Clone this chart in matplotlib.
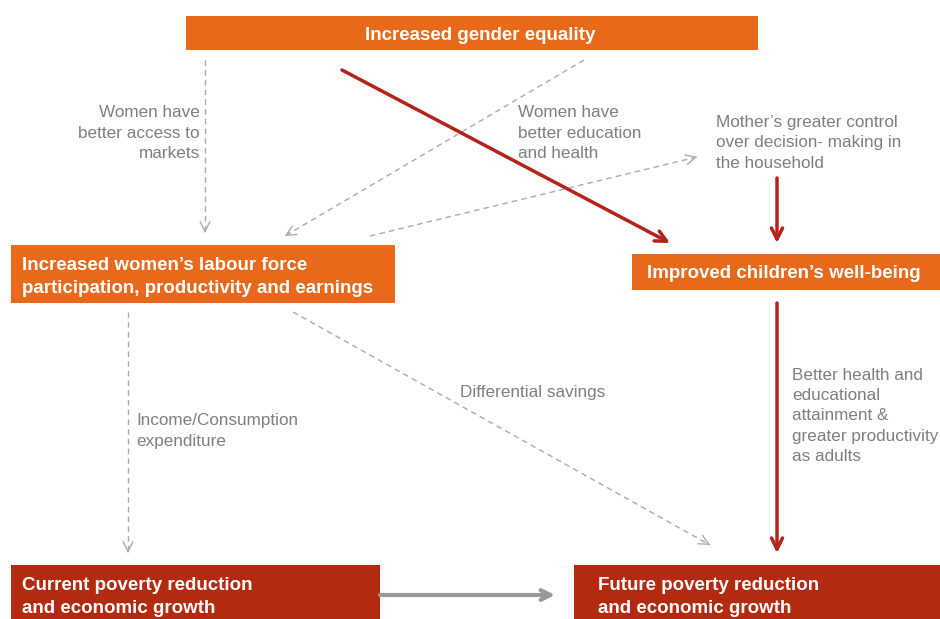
import numpy as np
import matplotlib.pyplot as plt
from matplotlib.patches import Rectangle

plt.rcParams['font.family'] = ['Liberation Sans', 'DejaVu Sans']

ORANGE = "#E8691A"
DARKRED = "#B42A10"
RED = "#B3231A"
GREY_TXT = "#7F7F7F"
GREY_LINE = "#ABABAB"

# boxes: label, x0, y0, x1, y1 (pixels, y down), colour
box_labels = ["Increased gender equality",
              "Increased women\u2019s labour force\nparticipation, productivity and earnings",
              "Improved children\u2019s well-being",
              "Current poverty reduction\nand economic growth",
              "Future poverty reduction\nand economic growth"]
box_rects = [(186, 16, 758, 50), (11, 245, 395, 303), (632, 254, 940, 290),
             (11, 565, 380, 619), (574, 565, 940, 619)]
box_colors = [ORANGE, ORANGE, ORANGE, DARKRED, DARKRED]
box_text_pos = [(480, 36, "center"), (22, 277, "left"), (784, 274, "center"),
                (22, 597, "left"), (598, 597, "left")]

# grey labels on the links
link_labels = ["Women have\nbetter access to\nmarkets",
               "Women have\nbetter education\nand health",
               "Mother\u2019s greater control\nover decision- making in\nthe household",
               "Differential savings",
               "Income/Consumption\nexpenditure",
               "Better health and\neducational\nattainment &\ngreater productivity\nas adults"]
link_label_pos = [(200, 133, "right"), (518, 133, "left"), (716, 143, "left"),
                  (460, 392, "left"), (136, 431, "left"), (792, 416, "left")]

# links: start, end
dashed_links = [((205, 60), (205, 233)), ((584, 60), (285, 236)),
                ((370, 236), (697, 157)), ((128, 312), (128, 553)),
                ((293, 312), (710, 545))]
red_links = [((342, 70), (670, 243)), ((777, 178), (777, 243)),
             ((777, 303), (777, 553))]
grey_link = ((380, 595), (555, 595))

fig = plt.figure(figsize=(9.4, 6.19), dpi=100)
ax = fig.add_axes([0, 0, 1, 1])
ax.set_xlim(0, 940)
ax.set_ylim(619, 0)
ax.axis("off")

for lab, (x0, y0, x1, y1), c, (tx, ty, ha) in zip(box_labels, box_rects, box_colors, box_text_pos):
    ax.add_patch(Rectangle((x0, y0), x1 - x0, y1 - y0, color=c, lw=0))
    ax.text(tx, ty, lab, ha=ha, va="center", color="white", fontsize=13.5,
            fontweight="bold", linespacing=1.45)

for lab, (tx, ty, ha) in zip(link_labels, link_label_pos):
    ax.text(tx, ty, lab, ha=ha, va="center", color=GREY_TXT, fontsize=12.3,
            linespacing=1.45)

for (x0, y0), (x1, y1) in dashed_links:
    ax.plot([x0, x1], [y0, y1], color=GREY_LINE, lw=1, ls=(0, (4, 3)))
    d = np.hypot(x1 - x0, y1 - y0)
    xs, ys = x1 - (x1 - x0) / d * 2, y1 - (y1 - y0) / d * 2
    ax.annotate("", xy=(x1, y1), xytext=(xs, ys),
                arrowprops=dict(arrowstyle="->,head_length=0.7,head_width=0.35",
                                color=GREY_LINE, lw=1, shrinkA=0, shrinkB=0))

for (x0, y0), (x1, y1) in red_links:
    ax.annotate("", xy=(x1, y1), xytext=(x0, y0),
                arrowprops=dict(arrowstyle="->,head_length=0.8,head_width=0.4",
                                color=RED, lw=2.5, shrinkA=0, shrinkB=0))

(x0, y0), (x1, y1) = grey_link
ax.annotate("", xy=(x1, y1), xytext=(x0, y0),
            arrowprops=dict(arrowstyle="->,head_length=0.7,head_width=0.35",
                            color="#999999", lw=3, shrinkA=0, shrinkB=0))

fig.savefig("out.png", dpi=100)
